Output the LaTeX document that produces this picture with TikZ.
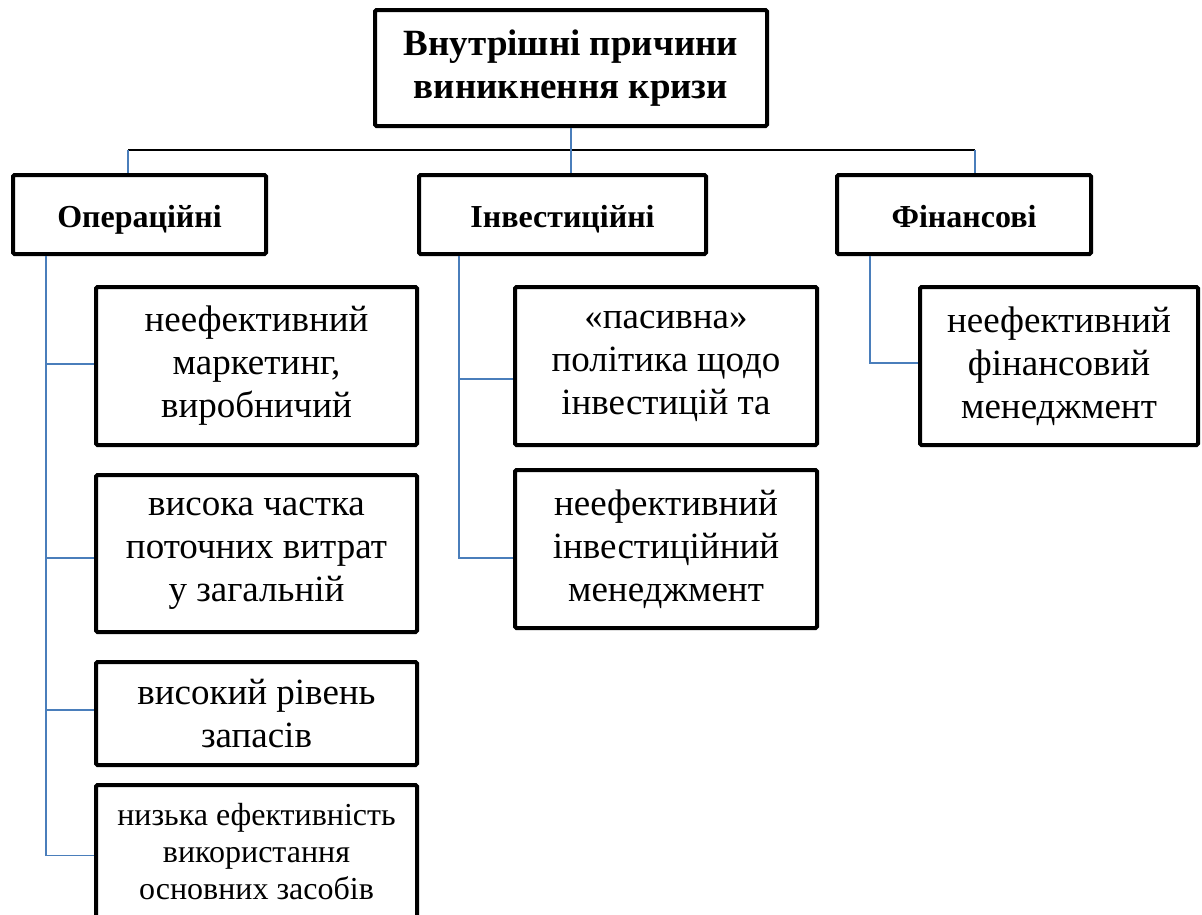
\documentclass[tikz,border=0pt]{standalone}
\usepackage{fontspec}
\setmainfont{Liberation Serif}
\definecolor{linkblue}{HTML}{4A7EBB}
\begin{document}
\begin{tikzpicture}[x=1pt,y=-1pt,
  box/.style={draw=black,line width=4pt,rounded corners=1.5pt,inner sep=0pt,align=center},
  headbox/.style={box,font=\bfseries\fontsize{37}{43}\selectfont},
  groupbox/.style={box,font=\bfseries\fontsize{32}{38}\selectfont,text height=25pt,text depth=0pt},
  itembox/.style={box,font=\fontsize{37}{43}\selectfont},
  smallbox/.style={box,font=\fontsize{32}{37}\selectfont},
  conn/.style={draw=linkblue,line width=1.4pt},
  bar/.style={draw=black,line width=1.4pt}]
\useasboundingbox (0,0) rectangle (1202,914);

% root
\node[headbox,minimum width=392pt,minimum height=116pt] (root) at (571,68)
  {Внутрішні причини\\виникнення кризи};

% groups
\node[groupbox,minimum width=253pt,minimum height=79pt] (oper) at (139.5,214.5) {Операційні};
\node[groupbox,minimum width=287pt,minimum height=79pt] (inv) at (562.5,214.5) {Інвестиційні};
\node[groupbox,minimum width=254pt,minimum height=79pt] (fin) at (964,214.5) {Фінансові};

% operational causes
\node[itembox,minimum width=321pt,minimum height=158pt] (o1) at (256.5,366)
  {неефективний\\маркетинг,\\виробничий};
\node[itembox,minimum width=321pt,minimum height=157pt] (o2) at (256.5,553.5)
  {висока частка\\поточних витрат\\у загальній};
\node[itembox,minimum width=321pt,minimum height=103pt] (o3) at (256.5,713.5)
  {високий рівень\\запасів};
\node[smallbox,minimum width=321pt,minimum height=133pt] (o4) at (256.5,851.5)
  {низька ефективність\\використання\\основних засобів};

% investment causes
\node[itembox,minimum width=302pt,minimum height=158pt] (i1) at (666,366)
  {«пасивна»\\політика щодо\\інвестицій та};
\node[itembox,minimum width=302pt,minimum height=158pt] (i2) at (666,549)
  {неефективний\\інвестиційний\\менеджмент};

% financial causes
\node[itembox,minimum width=278pt,minimum height=158pt] (f1) at (1059,366)
  {неефективний\\фінансовий\\менеджмент};

% top-level branching
\coordinate (jo) at (128,150);
\coordinate (jf) at (975,150);
\draw[bar] (jo) -- (jf);
\draw[conn] (root.south) -- (root.south |- jo);
\draw[conn] (jo) -- (jo |- oper.north);
\draw[conn] (root.south |- jo) -- (root.south |- inv.north);
\draw[conn] (jf) -- (jf |- fin.north);

% operational trunk
\coordinate (ot) at (46,256);
\draw[conn] (ot) |- ([yshift=-4pt]o4.west);
\draw[conn] (ot) |- ([yshift=2pt]o1.west);
\draw[conn] (ot) |- ([yshift=-4.5pt]o2.west);
\draw[conn] (ot) |- ([yshift=3.5pt]o3.west);

% investment trunk
\coordinate (it) at (459,256);
\draw[conn] (it) |- ([yshift=-9pt]i2.west);
\draw[conn] (it) |- ([yshift=-13pt]i1.west);

% financial trunk
\coordinate (ft) at (870,256);
\draw[conn] (ft) |- ([yshift=3pt]f1.west);
\end{tikzpicture}
\end{document}
